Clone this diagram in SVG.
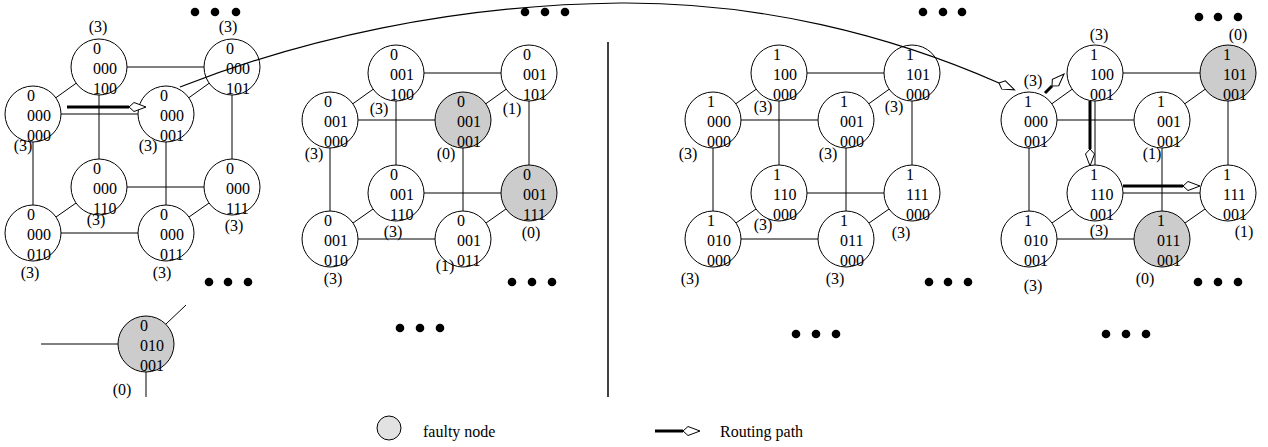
<svg xmlns="http://www.w3.org/2000/svg" width="1268" height="447" viewBox="0 0 1268 447">
<style>
.n{fill:#fff;stroke:#000;stroke-width:1}
.f{fill:#ccc;stroke:#000;stroke-width:1}
text{font-family:"Liberation Serif","Times New Roman",serif;font-size:16px;fill:#000}
.l{text-anchor:middle}
.e{stroke:#000;stroke-width:1;fill:none}
.r{stroke:#000;stroke-width:3;fill:none;marker-end:url(#dia)}
.c{stroke:#000;stroke-width:1.2;fill:none;marker-end:url(#dia)}
.d{fill:#000}
</style>
<defs>
<marker id="dia" markerUnits="userSpaceOnUse" viewBox="-1 -6 20 12" markerWidth="20" markerHeight="12" refX="0" refY="0" orient="auto">
<path d="M0,0 L5,-4.5 L17,0 L5,4.5 Z" fill="#fff" stroke="#000" stroke-width="1"/>
</marker>
</defs>
<rect width="1268" height="447" fill="#fff"/>

<!-- Cube 1 -->
<g id="c1-100"><circle class="n" cx="99" cy="67" r="28"/><text x="93" y="54">0<tspan x="93" dy="20">000</tspan><tspan x="93" dy="19.5">100</tspan></text></g>
<g id="c1-101"><circle class="n" cx="232" cy="67" r="28"/><text x="226" y="54">0<tspan x="226" dy="20">000</tspan><tspan x="226" dy="19.5">101</tspan></text></g>
<g id="c1-000"><circle class="n" cx="33" cy="114" r="28"/><text x="27" y="101">0<tspan x="27" dy="20">000</tspan><tspan x="27" dy="19.5">000</tspan></text></g>
<g id="c1-001"><circle class="n" cx="166" cy="114" r="28"/><text x="160" y="101">0<tspan x="160" dy="20">000</tspan><tspan x="160" dy="19.5">001</tspan></text></g>
<g id="c1-110"><circle class="n" cx="99" cy="187" r="28"/><text x="93" y="174">0<tspan x="93" dy="20">000</tspan><tspan x="93" dy="19.5">110</tspan></text></g>
<g id="c1-111"><circle class="n" cx="232" cy="187" r="28"/><text x="226" y="174">0<tspan x="226" dy="20">000</tspan><tspan x="226" dy="19.5">111</tspan></text></g>
<g id="c1-010"><circle class="n" cx="33" cy="233" r="28"/><text x="27" y="220">0<tspan x="27" dy="20">000</tspan><tspan x="27" dy="19.5">010</tspan></text></g>
<g id="c1-011"><circle class="n" cx="166" cy="233" r="28"/><text x="160" y="220">0<tspan x="160" dy="20">000</tspan><tspan x="160" dy="19.5">011</tspan></text></g>
<g id="iso-010-001"><circle class="f" cx="146" cy="344" r="28"/><text x="140" y="331">0<tspan x="140" dy="20">010</tspan><tspan x="140" dy="19.5">001</tspan></text></g>

<!-- Cube 2 -->
<g id="c2-100"><circle class="n" cx="396" cy="73" r="28"/><text x="390" y="60">0<tspan x="390" dy="20">001</tspan><tspan x="390" dy="19.5">100</tspan></text></g>
<g id="c2-101"><circle class="n" cx="529" cy="73" r="28"/><text x="523" y="60">0<tspan x="523" dy="20">001</tspan><tspan x="523" dy="19.5">101</tspan></text></g>
<g id="c2-000"><circle class="n" cx="330" cy="120" r="28"/><text x="324" y="107">0<tspan x="324" dy="20">001</tspan><tspan x="324" dy="19.5">000</tspan></text></g>
<g id="c2-001"><circle class="f" cx="463" cy="120" r="28"/><text x="457" y="107">0<tspan x="457" dy="20">001</tspan><tspan x="457" dy="19.5">001</tspan></text></g>
<g id="c2-110"><circle class="n" cx="396" cy="193" r="28"/><text x="390" y="180">0<tspan x="390" dy="20">001</tspan><tspan x="390" dy="19.5">110</tspan></text></g>
<g id="c2-111"><circle class="f" cx="529" cy="193" r="28"/><text x="523" y="180">0<tspan x="523" dy="20">001</tspan><tspan x="523" dy="19.5">111</tspan></text></g>
<g id="c2-010"><circle class="n" cx="330" cy="239" r="28"/><text x="324" y="226">0<tspan x="324" dy="20">001</tspan><tspan x="324" dy="19.5">010</tspan></text></g>
<g id="c2-011"><circle class="n" cx="463" cy="239" r="28"/><text x="457" y="226">0<tspan x="457" dy="20">001</tspan><tspan x="457" dy="19.5">011</tspan></text></g>

<!-- Cube 3 -->
<g id="c3-100"><circle class="n" cx="779" cy="73" r="28"/><text x="773" y="60">1<tspan x="773" dy="20">100</tspan><tspan x="773" dy="19.5">000</tspan></text></g>
<g id="c3-101"><circle class="n" cx="912" cy="73" r="28"/><text x="906" y="60">1<tspan x="906" dy="20">101</tspan><tspan x="906" dy="19.5">000</tspan></text></g>
<g id="c3-000"><circle class="n" cx="713" cy="120" r="28"/><text x="707" y="107">1<tspan x="707" dy="20">000</tspan><tspan x="707" dy="19.5">000</tspan></text></g>
<g id="c3-001"><circle class="n" cx="846" cy="120" r="28"/><text x="840" y="107">1<tspan x="840" dy="20">001</tspan><tspan x="840" dy="19.5">000</tspan></text></g>
<g id="c3-110"><circle class="n" cx="779" cy="193" r="28"/><text x="773" y="180">1<tspan x="773" dy="20">110</tspan><tspan x="773" dy="19.5">000</tspan></text></g>
<g id="c3-111"><circle class="n" cx="912" cy="193" r="28"/><text x="906" y="180">1<tspan x="906" dy="20">111</tspan><tspan x="906" dy="19.5">000</tspan></text></g>
<g id="c3-010"><circle class="n" cx="713" cy="239" r="28"/><text x="707" y="226">1<tspan x="707" dy="20">010</tspan><tspan x="707" dy="19.5">000</tspan></text></g>
<g id="c3-011"><circle class="n" cx="846" cy="239" r="28"/><text x="840" y="226">1<tspan x="840" dy="20">011</tspan><tspan x="840" dy="19.5">000</tspan></text></g>

<!-- Cube 4 -->
<g id="c4-100"><circle class="n" cx="1095" cy="73" r="28"/><text x="1090" y="60">1<tspan x="1090" dy="20">100</tspan><tspan x="1090" dy="19.5">001</tspan></text></g>
<g id="c4-101"><circle class="f" cx="1228" cy="73" r="28"/><text x="1223" y="60">1<tspan x="1223" dy="20">101</tspan><tspan x="1223" dy="19.5">001</tspan></text></g>
<g id="c4-000"><circle class="n" cx="1029" cy="120" r="28"/><text x="1024" y="107">1<tspan x="1024" dy="20">000</tspan><tspan x="1024" dy="19.5">001</tspan></text></g>
<g id="c4-001"><circle class="n" cx="1162" cy="120" r="28"/><text x="1157" y="107">1<tspan x="1157" dy="20">001</tspan><tspan x="1157" dy="19.5">001</tspan></text></g>
<g id="c4-110"><circle class="n" cx="1095" cy="193" r="28"/><text x="1090" y="180">1<tspan x="1090" dy="20">110</tspan><tspan x="1090" dy="19.5">001</tspan></text></g>
<g id="c4-111"><circle class="n" cx="1228" cy="193" r="28"/><text x="1223" y="180">1<tspan x="1223" dy="20">111</tspan><tspan x="1223" dy="19.5">001</tspan></text></g>
<g id="c4-010"><circle class="n" cx="1029" cy="239" r="28"/><text x="1024" y="226">1<tspan x="1024" dy="20">010</tspan><tspan x="1024" dy="19.5">001</tspan></text></g>
<g id="c4-011"><circle class="f" cx="1162" cy="239" r="28"/><text x="1157" y="226">1<tspan x="1157" dy="20">011</tspan><tspan x="1157" dy="19.5">001</tspan></text></g>

<!-- Labels -->
<g id="labels">
<text class="l" x="98" y="32">(3)</text>
<text class="l" x="228" y="32">(3)</text>
<text class="l" x="23" y="151">(3)</text>
<text class="l" x="148" y="151">(3)</text>
<text class="l" x="96" y="225">(3)</text>
<text class="l" x="234" y="231">(3)</text>
<text class="l" x="30" y="278">(3)</text>
<text class="l" x="162" y="278">(3)</text>
<text class="l" x="122" y="395">(0)</text>

<text class="l" x="379" y="114">(3)</text>
<text class="l" x="512" y="114">(1)</text>
<text class="l" x="314" y="159">(3)</text>
<text class="l" x="446" y="159">(0)</text>
<text class="l" x="531" y="238">(0)</text>
<text class="l" x="393" y="237">(3)</text>
<text class="l" x="445" y="271">(1)</text>
<text class="l" x="333" y="284">(3)</text>

<text class="l" x="763" y="112">(3)</text>
<text class="l" x="894" y="112">(3)</text>
<text class="l" x="688" y="159">(3)</text>
<text class="l" x="828" y="159">(3)</text>
<text class="l" x="763" y="230">(3)</text>
<text class="l" x="901" y="238">(3)</text>
<text class="l" x="690" y="284">(3)</text>
<text class="l" x="835" y="284">(3)</text>

<text class="l" x="1099" y="40">(3)</text>
<text class="l" x="1238" y="40">(0)</text>
<text class="l" x="1033" y="86">(3)</text>
<text class="l" x="1152" y="159">(1)</text>
<text class="l" x="1099" y="236">(3)</text>
<text class="l" x="1244" y="237">(1)</text>
<text class="l" x="1033" y="291">(3)</text>
<text class="l" x="1145" y="284">(0)</text>
</g>

<!-- Ellipsis dots -->
<g id="dots" class="d">
<circle cx="195" cy="12" r="4.3"/><circle cx="215" cy="12" r="4.3"/><circle cx="236" cy="12" r="4.3"/>
<circle cx="209" cy="282" r="4.3"/><circle cx="228" cy="282" r="4.3"/><circle cx="248" cy="282" r="4.3"/>
<circle cx="525" cy="12" r="4.3"/><circle cx="545" cy="12" r="4.3"/><circle cx="565" cy="12" r="4.3"/>
<circle cx="512" cy="282" r="4.3"/><circle cx="532" cy="282" r="4.3"/><circle cx="552" cy="282" r="4.3"/>
<circle cx="400" cy="328" r="4.3"/><circle cx="420" cy="328" r="4.3"/><circle cx="440" cy="328" r="4.3"/>
<circle cx="923" cy="12" r="4.3"/><circle cx="943" cy="12" r="4.3"/><circle cx="962" cy="12" r="4.3"/>
<circle cx="929" cy="282" r="4.3"/><circle cx="948" cy="282" r="4.3"/><circle cx="968" cy="282" r="4.3"/>
<circle cx="796" cy="334" r="4.3"/><circle cx="816" cy="334" r="4.3"/><circle cx="836" cy="334" r="4.3"/>
<circle cx="1199" cy="17" r="4.3"/><circle cx="1218" cy="17" r="4.3"/><circle cx="1238" cy="17" r="4.3"/>
<circle cx="1198" cy="282" r="4.3"/><circle cx="1218" cy="282" r="4.3"/><circle cx="1238" cy="282" r="4.3"/>
<circle cx="1106" cy="334" r="4.3"/><circle cx="1126" cy="334" r="4.3"/><circle cx="1146" cy="334" r="4.3"/>
</g>

<!-- Divider -->
<line id="divider" x1="608" y1="42" x2="608" y2="397" stroke="#000" stroke-width="1.5"/>

<!-- Connectors -->
<g id="connectors">
<g class="e">
<line x1="61" y1="114" x2="138" y2="114"/>
<line x1="127" y1="67" x2="204" y2="67"/>
<line x1="127" y1="187" x2="204" y2="187"/>
<line x1="61" y1="233" x2="138" y2="233"/>
<line x1="33" y1="142" x2="33" y2="205"/>
<line x1="166" y1="142" x2="166" y2="205"/>
<line x1="99" y1="95" x2="99" y2="159"/>
<line x1="232" y1="95" x2="232" y2="159"/>
<line x1="55.8" y1="97.8" x2="76.2" y2="83.2"/>
<line x1="188.8" y1="97.8" x2="209.2" y2="83.2"/>
<line x1="56" y1="217" x2="76" y2="203"/>
<line x1="189" y1="217" x2="209" y2="203"/>

<line x1="41" y1="344" x2="118" y2="344"/>
<line x1="166" y1="324" x2="186" y2="305"/>
<line x1="146" y1="372" x2="146" y2="397"/>

<line x1="358" y1="120" x2="435" y2="120"/>
<line x1="424" y1="73" x2="501" y2="73"/>
<line x1="424" y1="193" x2="501" y2="193"/>
<line x1="358" y1="239" x2="435" y2="239"/>
<line x1="330" y1="148" x2="330" y2="211"/>
<line x1="463" y1="148" x2="463" y2="211"/>
<line x1="396" y1="101" x2="396" y2="165"/>
<line x1="529" y1="101" x2="529" y2="165"/>
<line x1="352.8" y1="103.8" x2="373.2" y2="89.2"/>
<line x1="485.8" y1="103.8" x2="506.2" y2="89.2"/>
<line x1="353" y1="223" x2="373" y2="209"/>
<line x1="486" y1="223" x2="506" y2="209"/>

<line x1="741" y1="120" x2="818" y2="120"/>
<line x1="807" y1="73" x2="884" y2="73"/>
<line x1="807" y1="193" x2="884" y2="193"/>
<line x1="741" y1="239" x2="818" y2="239"/>
<line x1="713" y1="148" x2="713" y2="211"/>
<line x1="846" y1="148" x2="846" y2="211"/>
<line x1="779" y1="101" x2="779" y2="165"/>
<line x1="912" y1="101" x2="912" y2="165"/>
<line x1="735.8" y1="103.8" x2="756.2" y2="89.2"/>
<line x1="868.8" y1="103.8" x2="889.2" y2="89.2"/>
<line x1="736" y1="223" x2="756" y2="209"/>
<line x1="869" y1="223" x2="889" y2="209"/>

<line x1="1057" y1="120" x2="1134" y2="120"/>
<line x1="1123" y1="73" x2="1200" y2="73"/>
<line x1="1123" y1="193" x2="1200" y2="193"/>
<line x1="1057" y1="239" x2="1134" y2="239"/>
<line x1="1029" y1="148" x2="1029" y2="211"/>
<line x1="1162" y1="148" x2="1162" y2="211"/>
<line x1="1095" y1="101" x2="1095" y2="165"/>
<line x1="1228" y1="101" x2="1228" y2="165"/>
<line x1="1051.8" y1="103.8" x2="1072.2" y2="89.2"/>
<line x1="1184.8" y1="103.8" x2="1205.2" y2="89.2"/>
<line x1="1052" y1="223" x2="1072" y2="209"/>
<line x1="1185" y1="223" x2="1205" y2="209"/>
</g>
<g id="routing">
<line class="r" x1="67" y1="107" x2="129" y2="107"/>
<path class="c" d="M180,87 C300,40 450,5 620,3 C760,2 890,35 999,83"/>
<line class="r" x1="1045" y1="93" x2="1052" y2="86"/>
<line class="r" x1="1090" y1="101" x2="1090" y2="149"/>
<line class="r" x1="1123" y1="186" x2="1183" y2="186"/>
</g>
</g>

<!-- Legend -->
<g id="legend">
<circle cx="389" cy="428" r="12" fill="#e2e2e2" stroke="#000" stroke-width="1"/>
<text x="423" y="437">faulty node</text>
<line class="r" x1="655" y1="431" x2="683" y2="431"/>
<text x="720" y="437">Routing path</text>
</g>
</svg>
